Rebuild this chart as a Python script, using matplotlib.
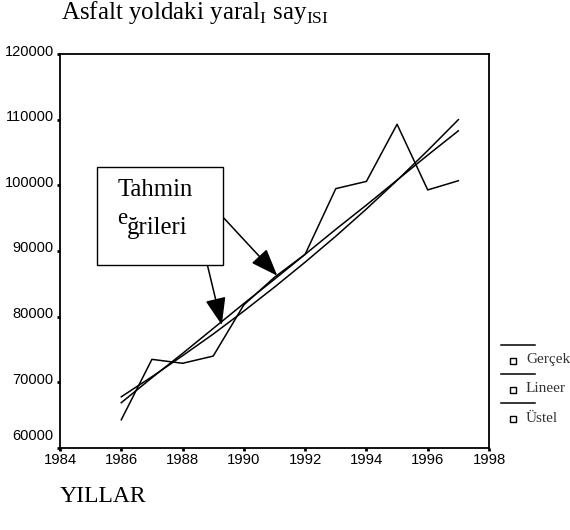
import matplotlib
matplotlib.use("Agg")
import matplotlib.pyplot as plt
from matplotlib.patches import Rectangle
from matplotlib.lines import Line2D
import matplotlib.transforms as mtransforms

# ---- data ----
years = [1986, 1987, 1988, 1989, 1990, 1991, 1992, 1993, 1994, 1995, 1996, 1997]
gercek = [64300, 73500, 72900, 74000, 81800, 86000, 89500, 99500, 100600, 109300, 99300, 100700]
lineer = [66900, 70700, 74400, 78200, 82000, 85700, 89500, 93300, 97000, 100800, 104600, 108300]
ustel = [67800, 70850, 74050, 77350, 80850, 84500, 88300, 92250, 96400, 100750, 105300, 110000]
series_labels = ["Gerçek", "Lineer", "Üstel"]
xticks = [1984, 1986, 1988, 1990, 1992, 1994, 1996, 1998]
yticks = [60000, 70000, 80000, 90000, 100000, 110000, 120000]

W, H = 570, 530
fig = plt.figure(figsize=(W / 100, H / 100), dpi=100)

def fx(x):
    return x / W

def fy(y):
    return 1 - y / H

ax = fig.add_axes([fx(60), fy(448), fx(489) - fx(60), fy(54) - fy(448)])

serif = ["Liberation Serif", "DejaVu Serif"]
sans = ["Liberation Sans", "DejaVu Sans"]
plt.rcParams["mathtext.fontset"] = "custom"
plt.rcParams["mathtext.rm"] = "Liberation Serif"

for vals in (gercek, lineer, ustel):
    ax.plot(years, vals, color="black", lw=1.1)

ax.set_xlim(1984, 1998)
ax.set_ylim(60000, 120000)
ax.set_xticks(xticks)
ax.set_yticks(yticks)
ax.set_xticklabels([str(v) for v in xticks], fontfamily=sans, fontsize=10.7)
ax.set_yticklabels([str(v) for v in yticks], fontfamily=sans, fontsize=10.5)
ax.tick_params(axis="both", length=2.5, width=2, direction="out", color="black")
ax.tick_params(axis="x", pad=1)
ax.tick_params(axis="y", pad=2)
for sp in ax.spines.values():
    sp.set_linewidth(1.3)
    sp.set_color("black")

# y tick labels sit slightly above their ticks in the reference
for lbl in ax.get_yticklabels():
    dy = 13 if lbl.get_text() == "60000" else 4
    lbl.set_transform(lbl.get_transform() + mtransforms.ScaledTranslation(0, dy / 100, fig.dpi_scale_trans))

# title and axis caption
fig.text(fx(61), fy(18.5), r"Asfalt yoldaki yaral$_{\mathrm{I}}$ say$_{\mathrm{ISI}}$",
         fontfamily=serif, fontsize=18, ha="left", va="baseline")
fig.text(fx(60), fy(501.5), "YILLAR", fontfamily=serif, fontsize=17, ha="left", va="baseline")

# annotation box
fig.add_artist(Rectangle((fx(97.3), fy(265)), fx(223.3) - fx(97.3), fy(167.3) - fy(265),
                         transform=fig.transFigure, fill=True, facecolor="white",
                         edgecolor="black", lw=1.0, zorder=5))
fig.text(fx(118), fy(196), "Tahmin", fontfamily=serif, fontsize=17.8, ha="left", va="baseline", zorder=6)
fig.text(fx(117.5), fy(223.5), "e", fontfamily=serif, fontsize=16.5, ha="left", va="baseline", zorder=6)
fig.text(fx(126.5), fy(234), "ğrileri", fontfamily=serif, fontsize=17.8, ha="left", va="baseline", zorder=6)

# arrows from the box to the curves
arrow_style = "-|>,head_length=0.85,head_width=0.32"
ax.annotate("", xy=(1991.09, 86240), xytext=(1989.35, 95000),
            arrowprops=dict(arrowstyle=arrow_style, mutation_scale=20, color="black",
                            lw=1.1, shrinkA=0, shrinkB=0), annotation_clip=False)
ax.annotate("", xy=(1989.28, 78730), xytext=(1988.81, 87870),
            arrowprops=dict(arrowstyle=arrow_style, mutation_scale=20, color="black",
                            lw=1.1, shrinkA=0, shrinkB=0), annotation_clip=False)

# legend (outside the axes on the right)
line_y = [345, 374, 403]
for i, name in enumerate(series_labels):
    ly = line_y[i]
    fig.add_artist(Line2D([fx(501), fx(535)], [fy(ly), fy(ly)], transform=fig.transFigure,
                          color="black", lw=1.1))
    fig.add_artist(Line2D([fx(512.5)], [fy(ly + 16)], transform=fig.transFigure,
                          marker="s", markersize=4.2, markerfacecolor="white",
                          markeredgecolor="black", markeredgewidth=1.0, linestyle="none"))
    fig.text(fx(526), fy(ly + 18.5), name, fontfamily=serif, fontsize=11,
             ha="left", va="baseline", color="#333333")

fig.savefig("out.png", dpi=100)
